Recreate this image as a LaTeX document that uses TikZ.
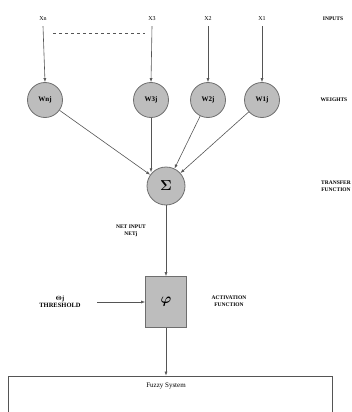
\documentclass[tikz,border=0pt]{standalone}
\usepackage{amsmath}
\usepackage{fontspec}
\setmainfont{Liberation Serif}
\usetikzlibrary{arrows.meta, shapes.geometric}
\definecolor{nFill}{HTML}{BDBDBD}
\definecolor{nLine}{HTML}{6E6E6E}
\definecolor{nEdge}{HTML}{555555}
\begin{document}
\begin{tikzpicture}[x=1pt, y=-1pt,
  weight/.style={circle, draw=nLine, fill=nFill, line width=0.8pt,
                 minimum size=35pt, inner sep=0pt,
                 font=\fontsize{7}{8}\selectfont\bfseries},
  inp/.style={font=\fontsize{6}{7}\selectfont, inner sep=1pt},
  tag/.style={font=\fontsize{5.5}{6.5}\selectfont\bfseries, align=center, inner sep=1pt},
  wire/.style={draw=nEdge, line width=0.6pt, -{Latex[length=4pt, width=3pt]}},
]
  \useasboundingbox (0,0) rectangle (352,412);
  % inputs
  \node[inp] (xn) at (43,19) {Xn};
  \node[inp] (x3) at (152,19) {X3};
  \node[inp] (x2) at (208,19) {X2};
  \node[inp] (x1) at (262,19) {X1};
  \node[tag] (inputs) at (333,19) {INPUTS};
  \coordinate (dashL) at (53,33);
  \coordinate (dashR) at (145,33);
  \draw[nEdge, dashed, line width=0.5pt] (dashL) -- (dashR);
  % weights
  \node[weight] (wn) at (45,100) {Wnj};
  \node[weight] (w3) at (151,100) {W3j};
  \node[weight] (w2) at (208,100) {W2j};
  \node[weight] (w1) at (262,100) {W1j};
  \node[tag] (weights) at (334,100) {WEIGHTS};
  \foreach \i in {n,3,2,1} {
    \draw[wire] (x\i.south) ++(0,4) -- (w\i.north);
  }
  % summation
  \node[circle, draw=nLine, fill=nFill, line width=0.8pt, minimum size=38pt,
        inner sep=0pt, font=\Large] (sum) at (166,186) {$\boldsymbol{\Sigma}$};
  \node[tag] (transfer) at (336,186) {TRANSFER\\FUNCTION};
  \draw[wire] (wn) -- (sum);
  \draw[wire] (w3.south) -- (w3.south |- sum.north west);
  \draw[wire] (w2) -- (sum);
  \draw[wire] (w1) -- (sum);
  \node[tag] (netin) at (131,231) {NET INPUT\\NETj};
  % activation
  \node[draw=nLine, fill=nFill, line width=0.8pt, minimum width=41pt,
        minimum height=51pt, font=\Large] (phi) at (166,302) {$\boldsymbol{\varphi}$};
  \node[tag] (activ) at (229,301) {ACTIVATION\\FUNCTION};
  \node[tag, font=\fontsize{6.5}{7.5}\selectfont\bfseries] (theta) at (60,302) {$\boldsymbol{\Theta}$j\\THRESHOLD};
  \coordinate (thr) at (97,302);
  \draw[wire] (sum) -- (phi);
  \draw[wire] (thr) -- (phi.west);
  % output
  \node[draw=nEdge, line width=0.8pt, minimum width=324pt, minimum height=40pt,
        inner sep=0pt] (fuzzy) at (170,396) {};
  \node[font=\fontsize{7}{8}\selectfont] (fuzzytxt) at (166,386) {Fuzzy System};
  \draw[wire] (phi) -- (phi |- fuzzy.north);
\end{tikzpicture}
\end{document}
